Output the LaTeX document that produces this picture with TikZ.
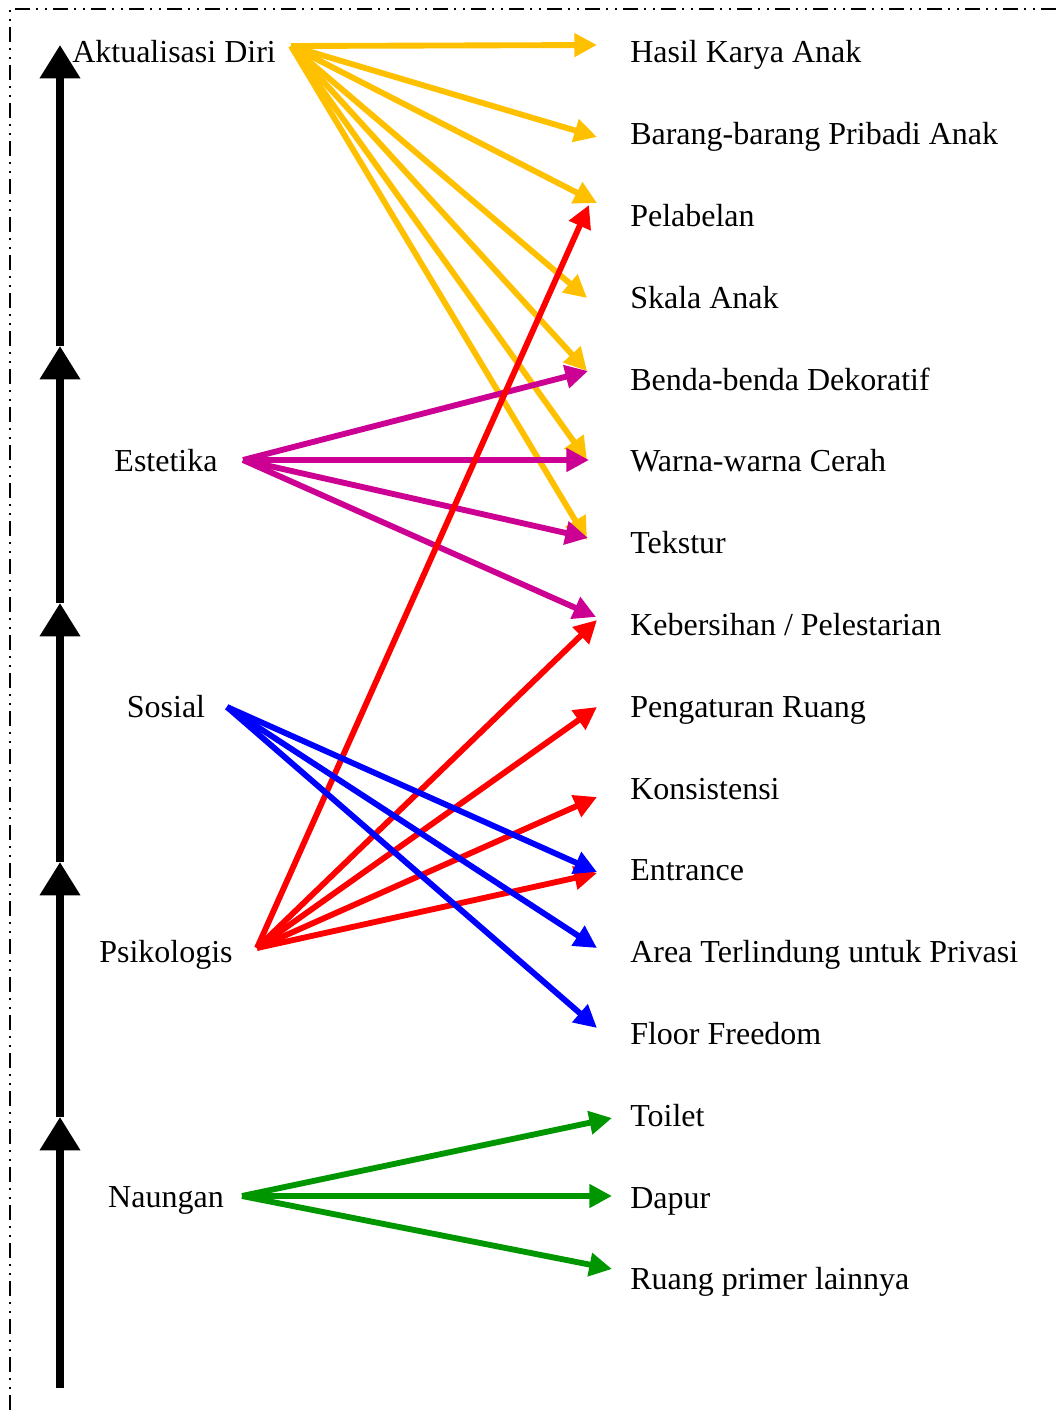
\documentclass[tikz,border=0pt]{standalone}
\usepackage{fontspec}
\setmainfont{Liberation Serif}
\usetikzlibrary{arrows.meta}
\definecolor{cyel}{RGB}{255,192,0}
\definecolor{cmag}{RGB}{204,0,146}
\definecolor{cred}{RGB}{255,0,0}
\definecolor{cblue}{RGB}{0,0,255}
\definecolor{cgreen}{RGB}{0,150,0}
\begin{document}
\begin{tikzpicture}[x=0.75pt,y=-0.75pt,
  lbl/.style={font=\fontsize{24}{28}\selectfont, inner sep=0pt, anchor=base west},
  cat/.style={font=\fontsize{24}{28}\selectfont, inner sep=0pt, anchor=base},
  link/.style={line width=4.4pt, -{Triangle[length=17pt,width=17pt]}},
  level/.style={line width=6pt, -{Triangle[length=25pt,width=29pt]}},
  frame/.style={line width=1.4pt, dash pattern=on 11.5pt off 4.5pt on 1.5pt off 5pt on 1.5pt off 4.5pt}]
\useasboundingbox (0,0) rectangle (1059,1410);

% frame (top and left edges)
\coordinate (fbl) at (10,1410);
\coordinate (ftl) at (10,9);
\coordinate (ftr) at (1059,9);
\draw[frame] (fbl) -- (ftl) -- (ftr);

% hierarchy axis
\coordinate (lv0) at (60,1388);
\coordinate (lv1) at (60,1117);
\coordinate (lv2) at (60,862);
\coordinate (lv3) at (60,603);
\coordinate (lv4) at (60,346);
\coordinate (lv5) at (60,45);
\draw[level] (lv0) -- (lv1);
\draw[level] (lv1) -- (lv2);
\draw[level] (lv2) -- (lv3);
\draw[level] (lv3) -- (lv4);
\draw[level] (lv4) -- (lv5);

% left labels
\node[lbl] (akt) at (72,62) {Aktualisasi Diri};
\node[cat] (est) at (166,471.5) {Estetika};
\node[cat] (sos) at (166,717) {Sosial};
\node[cat] (psi) at (166,962.5) {Psikologis};
\node[cat] (nau) at (166,1207.8) {Naungan};

% right labels
\node[lbl] (r1) at (630,62) {Hasil Karya Anak};
\node[lbl] (r2) at (630,144.5) {Barang-barang Pribadi Anak};
\node[lbl] (r3) at (630,226.4) {Pelabelan};
\node[lbl] (r4) at (630,308.2) {Skala Anak};
\node[lbl] (r5) at (630,390) {Benda-benda Dekoratif};
\node[lbl] (r6) at (630,471.8) {Warna-warna Cerah};
\node[lbl] (r7) at (630,553.6) {Tekstur};
\node[lbl] (r8) at (630,635.4) {Kebersihan / Pelestarian};
\node[lbl] (r9) at (630,717.2) {Pengaturan Ruang};
\node[lbl] (r10) at (630,799) {Konsistensi};
\node[lbl] (r11) at (630,880.8) {Entrance};
\node[lbl] (r12) at (630,962.6) {Area Terlindung untuk Privasi};
\node[lbl] (r13) at (630,1044.4) {Floor Freedom};
\node[lbl] (r14) at (630,1126.2) {Toilet};
\node[lbl] (r15) at (630,1208) {Dapur};
\node[lbl] (r16) at (630,1289.8) {Ruang primer lainnya};

% source points
\coordinate (s-akt) at (291,46);
\coordinate (s-est) at (243,460);
\coordinate (s-sos) at (227,707);
\coordinate (s-psi) at (257,948);
\coordinate (s-nau) at (242,1196);

% target points
\coordinate (t1) at (597,45);
\coordinate (t2) at (597,137);
\coordinate (t3y) at (597,203);
\coordinate (t3r) at (589,205);
\coordinate (t4) at (587,298);
\coordinate (t5y) at (587,371);
\coordinate (t5m) at (588,371);
\coordinate (t6y) at (587,460);
\coordinate (t6m) at (589,460);
\coordinate (t7y) at (587,540);
\coordinate (t7m) at (588,538);
\coordinate (t8m) at (596,617);
\coordinate (t8r) at (597,620);
\coordinate (t9) at (597,707);
\coordinate (t10) at (597,797);
\coordinate (t11r) at (597,873);
\coordinate (t11b) at (597,872);
\coordinate (t12) at (597,948);
\coordinate (t13) at (597,1028);
\coordinate (t14) at (612,1118);
\coordinate (t15) at (612,1196);
\coordinate (t16) at (612,1269);

% Aktualisasi Diri
\foreach \t in {t1,t2,t3y,t4,t5y,t6y,t7y}
  \draw[link, cyel] (s-akt) -- (\t);
% Estetika
\foreach \t in {t5m,t6m,t7m,t8m}
  \draw[link, cmag] (s-est) -- (\t);
% Psikologis
\foreach \t in {t3r,t8r,t9,t10,t11r}
  \draw[link, cred] (s-psi) -- (\t);
% Sosial
\foreach \t in {t11b,t12,t13}
  \draw[link, cblue] (s-sos) -- (\t);
% Naungan
\foreach \t in {t14,t15,t16}
  \draw[link, cgreen] (s-nau) -- (\t);
\end{tikzpicture}
\end{document}
